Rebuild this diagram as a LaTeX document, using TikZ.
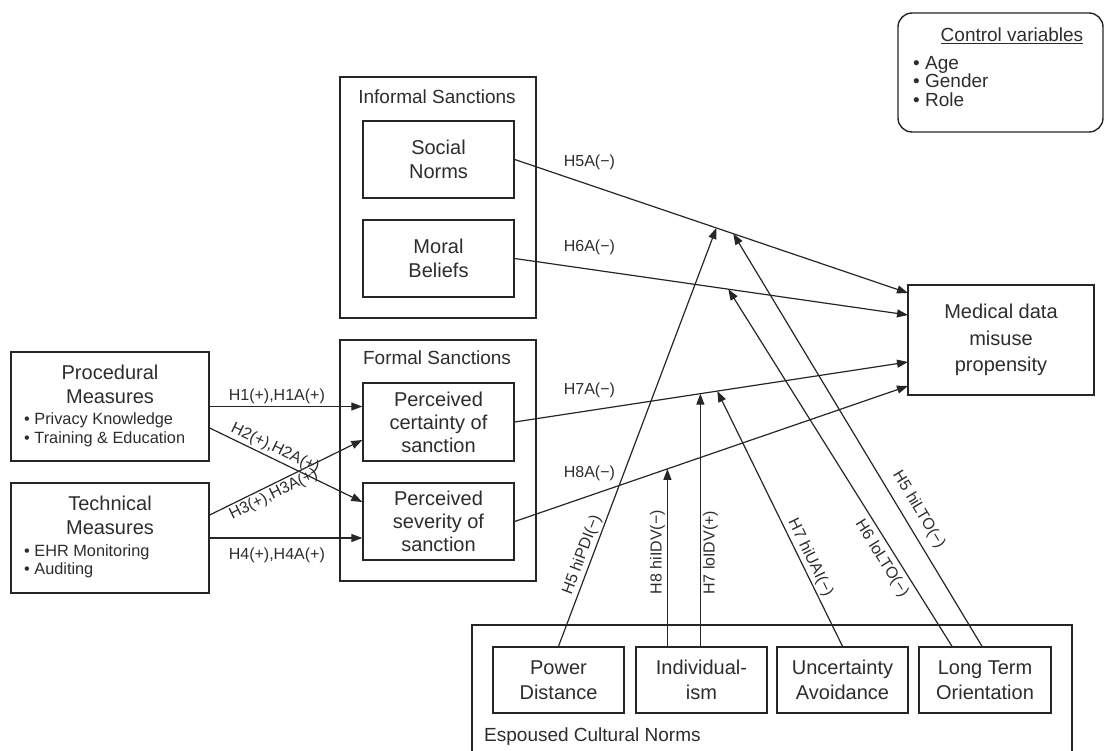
\documentclass[tikz,border=0pt]{standalone}
\usepackage{fontspec}
\setmainfont{Liberation Sans}
\usetikzlibrary{arrows.meta,calc}
\definecolor{ink}{RGB}{38,38,38}
\definecolor{txt}{RGB}{45,45,45}
\newcommand\fbig{\fontsize{20}{24}\selectfont}
\newcommand\fmid{\fontsize{20}{23}\selectfont}
\newcommand\fmed{\fontsize{20}{26.5}\selectfont}
\newcommand\fcul{\fontsize{20}{25}\selectfont}
\newcommand\fbul{\fontsize{16.3}{18.5}\selectfont}
\newcommand\flab{\fontsize{16}{19}\selectfont}
\newcommand\fttl{\fontsize{19}{22}\selectfont}
\newcommand\fctl{\fontsize{19}{18.5}\selectfont}
\begin{document}
\begin{tikzpicture}[x=1pt,y=-1pt,
  box/.style={draw=ink, line width=1.4pt, fill=white, inner sep=0pt, text=txt, align=center, font=\fbig},
  outer/.style={draw=ink, line width=1.4pt, inner sep=0pt},
  conn/.style={draw=ink, line width=1.2pt, -{Triangle[length=11pt,width=8pt]}},
  lab/.style={font=\flab, text=txt, inner sep=2pt},
  ttl/.style={font=\fttl, text=txt, inner sep=0pt},
  bul/.style={font=\fbul, text=txt, inner sep=0pt, align=left, anchor=west},
]
\useasboundingbox (0,0) rectangle (1112,751);
\clip (0,0) rectangle (1112,751);

% containers
\node[outer, minimum width=196, minimum height=241] (inf) at (438,197.5) {};
\node[ttl] (infT) at (437,97) {Informal Sanctions};
\node[outer, minimum width=196, minimum height=241] (frm) at (438,460.5) {};
\node[ttl] (frmT) at (437,358) {Formal Sanctions};
\node[outer, minimum width=600, minimum height=170] (ecn) at (772,710) {};
\node[ttl, anchor=west] (ecnT) at (484,737) {Espoused Cultural Norms};

% control variables
\node[draw=ink, line width=1.4pt, rounded corners=14pt, minimum width=205, minimum height=119, inner sep=0pt] (ctrl) at (1000.5,72.5) {};
\node[font=\fctl, text=txt, inner sep=0pt] (ctrlT) at (1012,36) {\underline{Control variables}};
\node[font=\fctl, text=txt, inner sep=0pt, align=left, anchor=west] (ctrlL) at (913,81.5) {• Age\\• Gender\\• Role};

% informal / formal sanctions
\node[box, minimum width=151, minimum height=77] (sn) at (438.5,159.5) {Social\\Norms};
\node[box, minimum width=151, minimum height=77] (mb) at (438.5,258.5) {Moral\\Beliefs};
\node[box, minimum width=151, minimum height=78, font=\fmid] (cert) at (438.5,422) {Perceived\\certainty of\\sanction};
\node[box, minimum width=151, minimum height=77, font=\fmid] (sev) at (438.5,521.5) {Perceived\\severity of\\sanction};

% measures
\node[box, minimum width=198, minimum height=109] (proc) at (110,406.5) {};
\node[font=\fbig, text=txt, align=center, inner sep=0pt] (procT) at (110,384) {Procedural\\Measures};
\node[bul] (procL) at (24,430) {• Privacy Knowledge\\• Training \& Education};
\node[box, minimum width=198, minimum height=110] (tech) at (110,538) {};
\node[font=\fbig, text=txt, align=center, inner sep=0pt] (techT) at (110,515.5) {Technical\\Measures};
\node[bul] (techL) at (24,561.5) {• EHR Monitoring\\• Auditing};

% outcome
\node[box, minimum width=186, minimum height=110, font=\fmed] (med) at (1001,340) {Medical data\\misuse\\propensity};

% cultural norms
\node[box, minimum width=131, minimum height=66, font=\fcul] (pd) at (558.5,680) {Power\\Distance};
\node[box, minimum width=131, minimum height=66, font=\fcul] (ind) at (701.5,680) {Individual-\\ism};
\node[box, minimum width=131, minimum height=66, font=\fcul] (ua) at (842.5,680) {Uncertainty\\Avoidance};
\node[box, minimum width=132, minimum height=66, font=\fcul] (lto) at (985,680) {Long Term\\Orientation};

% entry points on the outcome box
\coordinate (mA) at (908,293);
\coordinate (mB) at (908,315);
\coordinate (mC) at (908,362);
\coordinate (mD) at (908,386);

% measures -> sanctions
\draw[conn] (proc.east) -- node[lab, pos=0.44, above] {H1(+),H1A(+)} (cert.west |- proc.east);
\draw[conn] ($(proc.east)+(0,21.5)$) -- node[lab, pos=0.40, sloped, above] {H2(+),H2A(+)} ($(sev.west)+(0,-19.5)$);
\draw[conn] ($(tech.east)+(0,-23)$) -- node[lab, pos=0.39, sloped, below] {H3(+),H3A(+)} ($(cert.west)+(0,18)$);
\draw[conn] (tech.east) -- node[lab, pos=0.44, below=7pt] {H4(+),H4A(+)} (sev.west |- tech.east);

% sanctions -> outcome
\draw[conn] (sn.east) -- node[lab, pos=0.19, above=12pt] {H5A(−)} (mA);
\draw[conn] (mb.east) -- node[lab, pos=0.19, above=12pt] {H6A(−)} (mB);
\draw[conn] (cert.east) -- node[lab, pos=0.19, above=10pt] {H7A(−)} (mC);
\draw[conn] (sev.east) -- node[lab, pos=0.19, above=12pt] {H8A(−)} (mD);

% moderation targets
\coordinate (t5a) at ($(sn.east)!0.5127!(mA)$);
\coordinate (t5b) at ($(sn.east)!0.5558!(mA)$);
\coordinate (t6) at ($(mb.east)!0.5431!(mB)$);
\coordinate (t7a) at ($(cert.east)!0.4721!(mC)$);
\coordinate (t7b) at ($(cert.east)!0.5152!(mC)$);
\coordinate (t8) at ($(sev.east)!0.3883!(mD)$);

% moderators
\draw[conn] (pd.north) -- node[lab, sloped, above, pos=0.21] {H5 hiPDI(−)} (t5a);
\draw[conn] (t8 |- ind.north) -- node[lab, sloped, above, pos=0.53] {H8 hiIDV(−)} (t8);
\draw[conn] (t7a |- ind.north) -- node[lab, sloped, below, pos=0.37] {H7 loIDV(+)} (t7a);
\draw[conn] (ua.north) -- node[lab, sloped, above, pos=0.33] {H7 hiUAI(−)} (t7b);
\draw[conn] ($(lto.north)+(-33,0)$) -- node[lab, sloped, below=3pt, pos=0.265] {H6 loLTO(−)} (t6);
\draw[conn] ($(lto.north)+(-3,0)$) -- node[lab, sloped, above=6pt, pos=0.31] {H5 hiLTO(−)} (t5b);
\end{tikzpicture}
\end{document}
